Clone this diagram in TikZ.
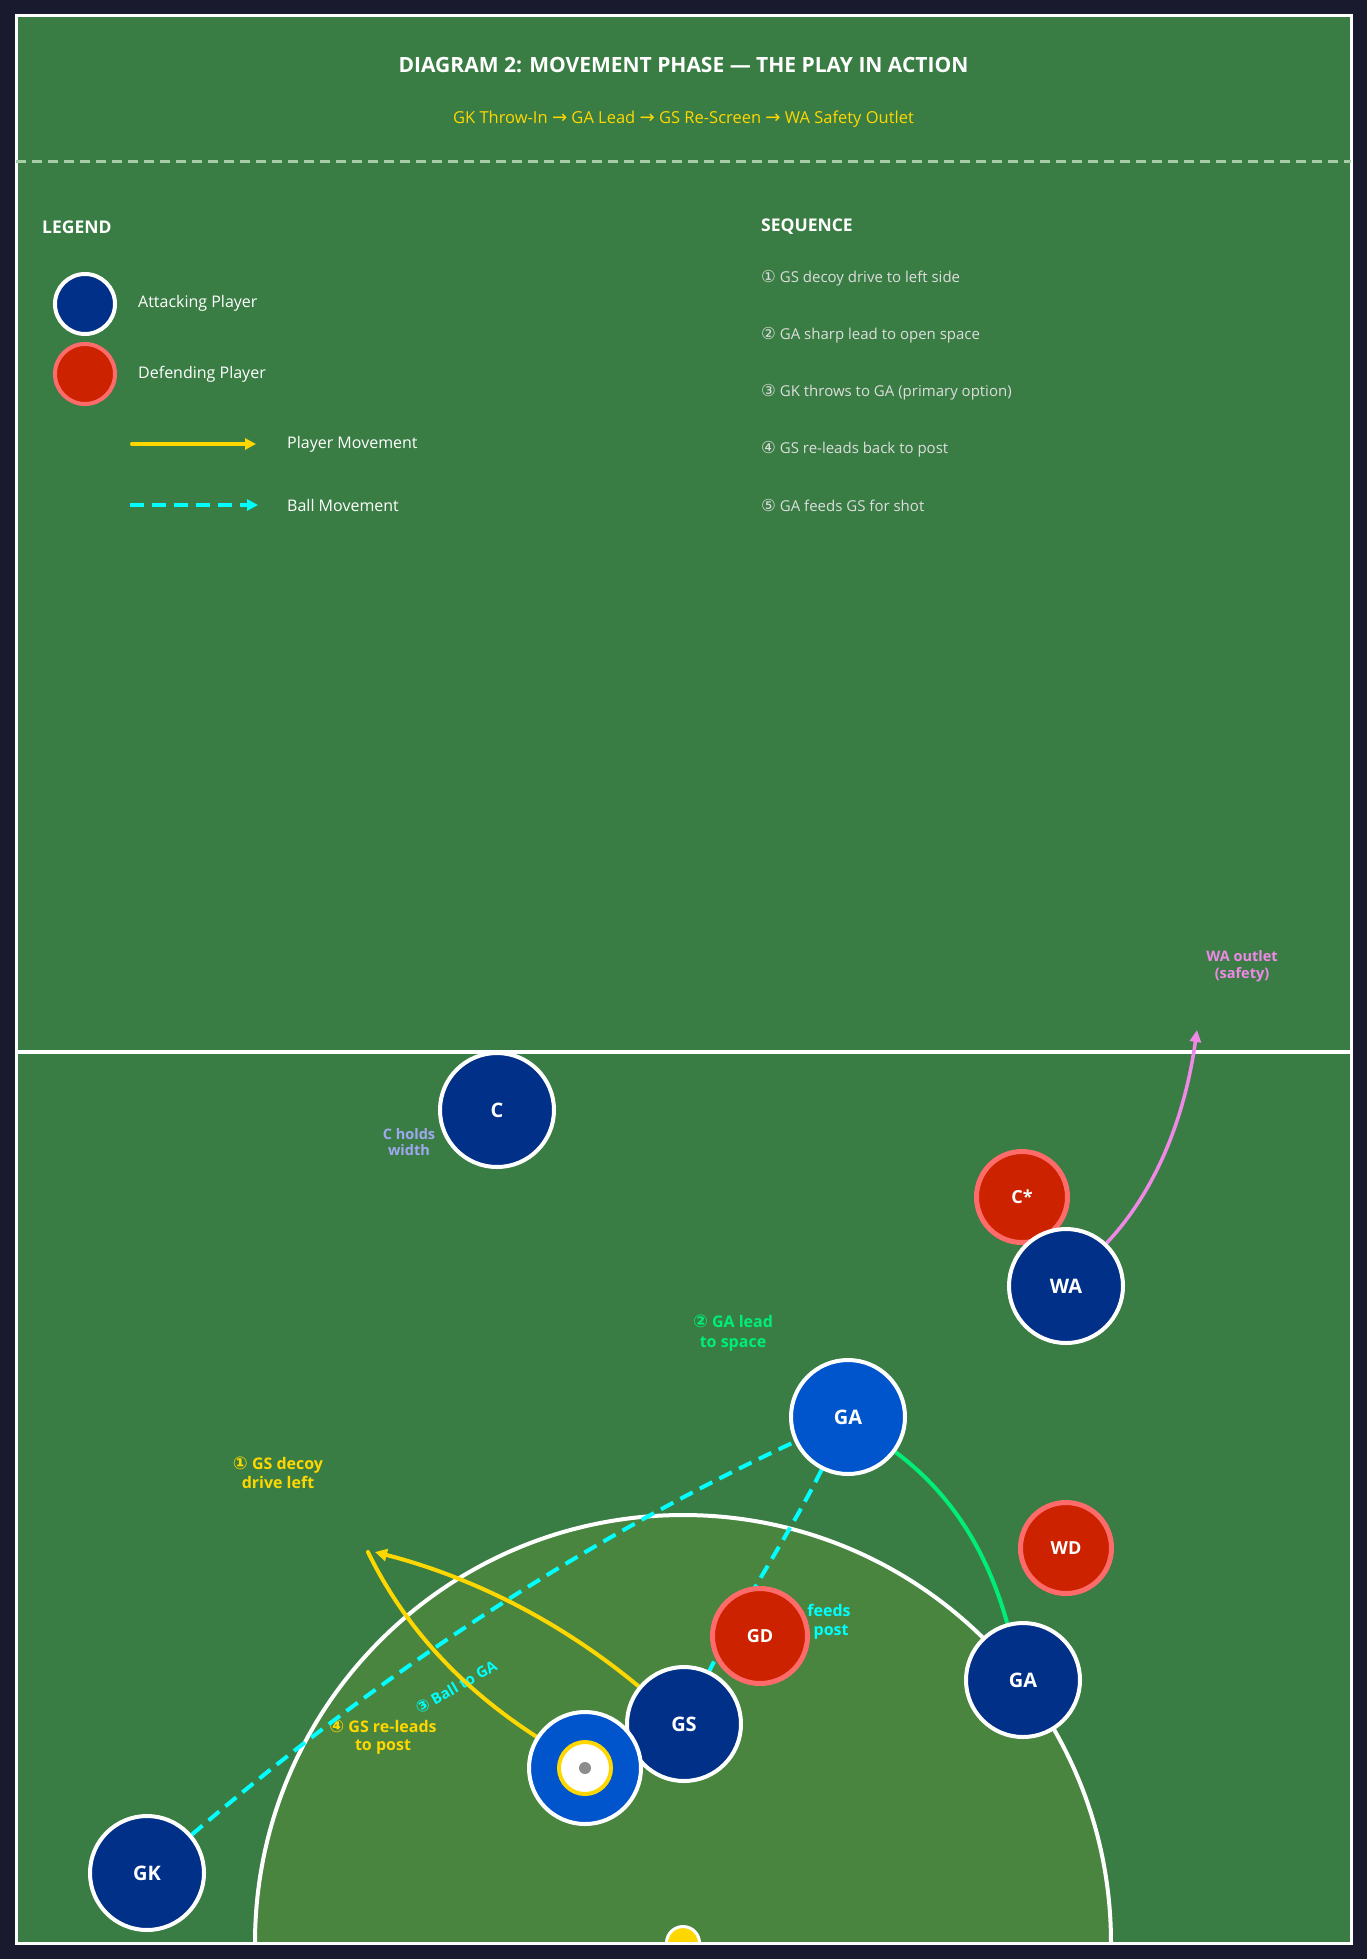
\documentclass[tikz,border=0pt]{standalone}
\usepackage{fontspec}
\setmainfont{Open Sans}
\newfontfamily\sym{DejaVu Sans}[Scale=1.1]
\usetikzlibrary{arrows.meta}
\definecolor{bgdark}{HTML}{1A1A2E}
\definecolor{court}{HTML}{3A7D44}
\definecolor{circfill}{HTML}{4A8540}
\definecolor{navy}{HTML}{003087}
\definecolor{lblue}{HTML}{0055CC}
\definecolor{redfill}{HTML}{CC2200}
\definecolor{redline}{HTML}{FF6B6B}
\definecolor{gold}{HTML}{FFD700}
\definecolor{cyanc}{HTML}{00FFFF}
\definecolor{springc}{HTML}{00EE77}
\definecolor{violetc}{HTML}{F088E8}
\definecolor{lavender}{HTML}{A0A8F0}
\definecolor{seqgray}{HTML}{DDDDDD}
\definecolor{dashgray}{HTML}{A5CDA8}
\pgfdeclarelayer{courtlayer}
\pgfdeclarelayer{links}
\pgfsetlayers{courtlayer,links,main}
\begin{document}
\begin{tikzpicture}[x=1pt,y=-1pt,
  att/.style={circle,draw=white,line width=4pt,fill=navy,minimum size=114pt,inner sep=0pt,text=white,font=\fontsize{20}{22}\selectfont\bfseries},
  attl/.style={att,fill=lblue},
  defn/.style={circle,draw=redline,line width=5pt,fill=redfill,minimum size=91pt,inner sep=0pt,text=white,font=\fontsize{18}{20}\selectfont\bfseries},
  legatt/.style={circle,draw=white,line width=4pt,fill=navy,minimum size=60pt,inner sep=0pt},
  legdef/.style={circle,draw=redline,line width=4pt,fill=redfill,minimum size=60pt,inner sep=0pt},
  legtext/.style={anchor=west,text=white,font=\fontsize{16}{18}\selectfont,inner sep=0pt},
  seqtext/.style={anchor=west,text=seqgray,font=\fontsize{15}{18}\selectfont,inner sep=0pt},
  headt/.style={anchor=west,text=white,font=\fontsize{17.5}{20}\selectfont\bfseries,inner sep=0pt},
  pmove/.style={draw=gold,line width=4pt},
  bmove/.style={draw=cyanc,line width=4pt,dash pattern=on 14pt off 8pt},
  annot/.style={align=center,font=\fontsize{16}{18.5}\selectfont\bfseries,inner sep=0pt}
]
\useasboundingbox (0,0) rectangle (1367,1959);
\begin{pgfonlayer}{courtlayer}
\fill[bgdark] (0,0) rectangle (1367,1959);
\fill[court] (16,16) rectangle (1351,1943);
\begin{scope}
\clip (16,16) rectangle (1351,1943);
\filldraw[fill=circfill,draw=white,line width=4pt] (683,1943) circle[radius=428pt];
\node[circle,fill=gold,draw=white,line width=3pt,minimum size=33pt,inner sep=0pt] (post) at (683,1943) {};
\end{scope}
\draw[white,line width=3pt] (16,16) rectangle (1351,1943);
\draw[dashgray,line width=3pt,dash pattern=on 10pt off 6pt] (16,161) -- (1351,161);
\draw[white,line width=4pt] (16,1052) -- (1351,1052);
\end{pgfonlayer}

% header
\node[text=white,font=\fontsize{21}{24}\selectfont\bfseries] (title) at (683.5,65) {DIAGRAM 2: MOVEMENT PHASE — THE PLAY IN ACTION};
\node[text=gold,font=\fontsize{16.5}{19}\selectfont] (subtitle) at (683.5,119) {GK Throw-In {\sym →} GA Lead {\sym →} GS Re-Screen {\sym →} WA Safety Outlet};

% legend
\node[headt] (legend) at (42,227) {LEGEND};
\node[legatt] (legA) at (85,304) {};
\node[legdef] (legD) at (85,374) {};
\node[legtext] (legAt) at (138,303) {Attacking Player};
\node[legtext] (legDt) at (138,374) {Defending Player};
\coordinate (pmA) at (132,444);
\coordinate (pmB) at (256,444);
\draw[pmove,line cap=round,-{Triangle[length=11pt,width=11pt]}] (pmA) -- (pmB);
\node[legtext] (pmt) at (287,444) {Player Movement};
\coordinate (bmA) at (130,505);
\coordinate (bmB) at (258,505);
\draw[bmove,-{Triangle[length=11pt,width=11pt]}] (bmA) -- (bmB);
\node[legtext] (bmt) at (287,505) {Ball Movement};

% sequence
\node[headt] (seq) at (761,227) {SEQUENCE};
\node[seqtext] (s1) at (761,278) {{\sym ①} GS decoy drive to left side};
\node[seqtext] (s2) at (761,335) {{\sym ②} GA sharp lead to open space};
\node[seqtext] (s3) at (761,392) {{\sym ③} GK throws to GA (primary option)};
\node[seqtext] (s4) at (761,449) {{\sym ④} GS re-leads back to post};
\node[seqtext] (s5) at (761,505) {{\sym ⑤} GA feeds GS for shot};

% players
\node[att] (C) at (497,1110) {C};
\node[defn] (Cs) at (1022,1197) {C*};
\node[att] (WA) at (1066,1286) {WA};
\node[attl] (GAl) at (848,1417) {GA};
\node[defn] (WD) at (1066,1548) {WD};
\node[att] (GAo) at (1023,1680) {GA};
\node[defn,minimum size=95pt] (GD) at (760,1636) {GD};
\node[att] (GS) at (684,1724) {GS};
\node[att,fill=lblue,minimum size=112pt] (ball) at (585,1768) {};
\node[circle,fill=white,draw=gold,line width=4pt,minimum size=52pt,inner sep=0pt] (ballring) at (ball.center) {};
\node[circle,fill=gray!90,minimum size=12pt,inner sep=0pt] (balldot) at (ball.center) {};
\node[att] (GK) at (147,1873) {GK};

\begin{pgfonlayer}{links}
% annotations
\node[annot,text=lavender,font=\fontsize{14.5}{16}\selectfont\bfseries] (Chold) at (409,1142) {C holds\\width};
\node[annot,text=violetc,font=\fontsize{14.5}{17}\selectfont\bfseries] (WAout) at (1242,966) {WA outlet\\(safety)};
\node[annot,text=springc,font=\fontsize{16}{19.5}\selectfont\bfseries] (GAlead) at (733,1333) {{\sym ②} GA lead\\to space};
\node[annot,text=gold] (decoy) at (278,1473) {{\sym ①} GS decoy\\drive left};
\node[annot,text=gold] (relead) at (383,1737) {{\sym ④} GS re-leads\\to post};
\node[annot,text=cyanc] (feeds) at (829,1622) {feeds\\\ post};
\node[annot,text=cyanc,font=\fontsize{15}{17}\selectfont\bfseries,rotate=30] (ballGA) at (456,1687) {{\sym ③} Ball to GA};

% connectors
\draw[bmove] (GK) .. controls (383,1671) and (584,1540) .. (GAl);
\draw[bmove] (GAl) .. controls (787,1539) and (742,1603) .. (GS);
\coordinate (decoyTip) at (375,1552);
\coordinate (releadStart) at (368,1552);
\draw[pmove,-{Triangle[length=12pt,width=12pt]}] (GS) .. controls (560,1621) and (472,1577) .. (decoyTip);
\draw[pmove,line cap=round] (releadStart) .. controls (403,1624) and (458,1686) .. (ball);
\draw[draw=springc,line width=4pt] (GAo) .. controls (986,1547) and (948,1491) .. (GAl);
\coordinate (outletTip) at (1197,1030);
\draw[draw=violetc,line width=3.5pt,-{Triangle[length=12pt,width=11pt]}] (WA) .. controls (1153,1194) and (1184,1123) .. (outletTip);
\end{pgfonlayer}
\end{tikzpicture}
\end{document}
